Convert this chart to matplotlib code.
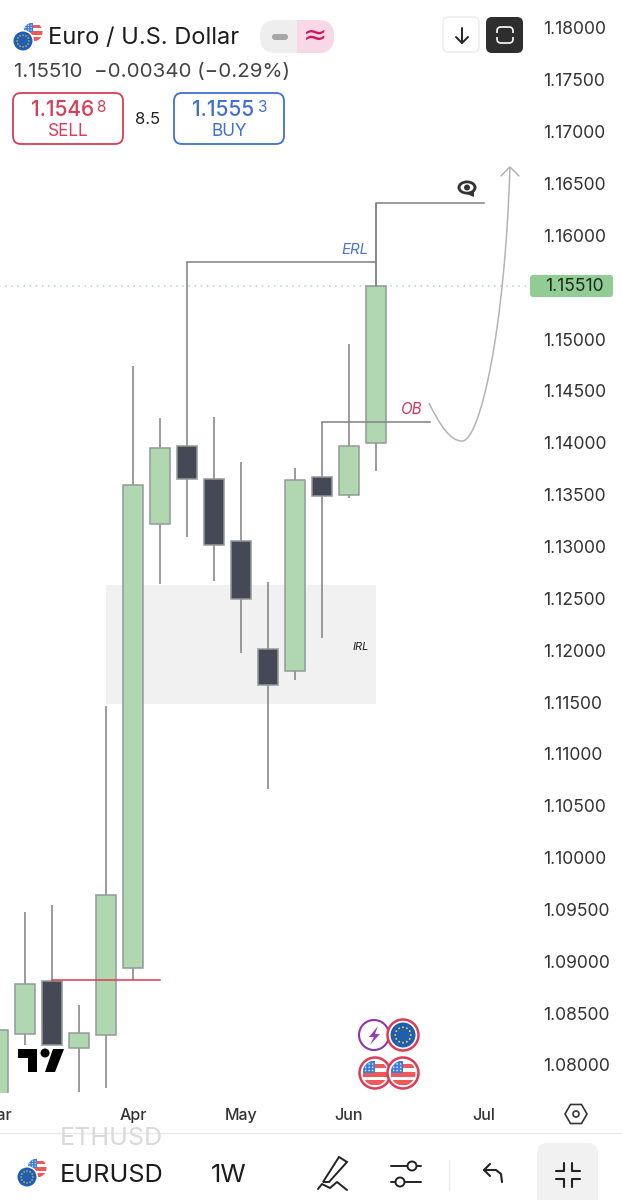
"""EUR/USD weekly candles with hand drawn levels, as seen in the TradingView app."""
import math

import matplotlib
matplotlib.use("Agg")
import matplotlib.pyplot as plt  # noqa: E402
from matplotlib.patches import Circle, Ellipse, FancyBboxPatch, PathPatch, Polygon, Rectangle  # noqa: E402
from matplotlib.path import Path  # noqa: E402

plt.rcParams["font.family"] = ["Inter", "DejaVu Sans"]

W, H = 622, 1200
GREEN = "#b1d7b1"
DARK = "#454855"
EDGE = "#929a96"
WICK = "#858585"
RED = "#dc3c55"
BLUE = "#3f6fd6"

# weekly candles, left to right
OPENS = [1.0740, 1.08299, 1.08810, 1.08164, 1.08289, 1.08936, 1.13217, 1.13969,
         1.13651, 1.13053, 1.12012, 1.11799, 1.13670, 1.13497, 1.13998]
CLOSES = [1.08338, 1.08781, 1.08193, 1.08309, 1.09639, 1.13593, 1.13950, 1.13651,
          1.13014, 1.12494, 1.11664, 1.13641, 1.13487, 1.13969, 1.15510]
HIGHS = [1.08338, 1.09475, 1.09543, 1.08579, 1.11462, 1.14741, 1.14239, 1.15744,
         1.14249, 1.13815, 1.12658, 1.13757, 1.14201, 1.14953, 1.16310]
LOWS = [1.0740, 1.08193, 1.08193, 1.07740, 1.07778, 1.08820, 1.12638, 1.13092,
        1.12667, 1.11973, 1.10662, 1.11713, 1.12118, 1.13468, 1.13728]

PRICE_TICKS = [1.18, 1.175, 1.17, 1.165, 1.16, 1.15, 1.145, 1.14, 1.135, 1.13,
               1.125, 1.12, 1.115, 1.11, 1.105, 1.10, 1.095, 1.09, 1.085, 1.08]
MONTH_POS = [0, 5, 9, 13, 18]
MONTH_LABELS = ["Mar", "Apr", "May", "Jun", "Jul"]

LAST_PRICE = 1.15510
EYE_LEVEL = 1.16310
ERL_LEVEL = 1.15744
OB_LEVEL = 1.14201
RED_LEVEL = 1.08820
IRL_TOP, IRL_BOTTOM = 1.12629, 1.11481

# target curve control points (candle index, price)
CURVE_X = [15.96, 16.37, 16.74, 17.19, 17.85, 18.78, 18.96]
CURVE_Y = [1.14384, 1.14172, 1.14017, 1.14017, 1.14017, 1.15088, 1.16660]

fig = plt.figure(figsize=(W / 100, H / 100), dpi=100, facecolor="white")

# chart axes: 27 px per candle, 10370 px per 1.0 of price
ax = fig.add_axes([-20 / W, 1 - 1093 / H, 552 / W, 1093 / H])
ax.set_xlim(-18 / 27, 534 / 27)
ax.set_ylim(1.18 - 1065 / 10370, 1.18 + 28 / 10370)
for s in ax.spines.values():
    s.set_visible(False)
ax.yaxis.tick_right()
ax.set_yticks(PRICE_TICKS, [f"{p:.5f}" for p in PRICE_TICKS])
ax.set_xticks(MONTH_POS, MONTH_LABELS)
ax.tick_params(axis="y", length=0, pad=8, labelsize=12.6, labelcolor="#333333")
ax.tick_params(axis="x", length=0, pad=10.5, labelsize=11.5, labelcolor="#333333")
for lab in ax.get_xticklabels():
    lab.set_fontweight("medium")

idx = list(range(len(OPENS)))
ax.vlines(idx, LOWS, HIGHS, color=WICK, lw=1.15, zorder=2)
colors = [GREEN if c >= o else DARK for o, c in zip(OPENS, CLOSES)]
bottoms = [min(o, c) for o, c in zip(OPENS, CLOSES)]
heights = [abs(o - c) for o, c in zip(OPENS, CLOSES)]
ax.bar(idx, heights, 0.74, bottom=bottoms, color=colors, edgecolor=EDGE, lw=1.1, zorder=3)

ax.axhline(LAST_PRICE, color="#a8dba8", lw=1.1, ls=(0, (1, 3)), zorder=1)

# drawn levels
ax.plot([14, 14, 18], [LAST_PRICE, EYE_LEVEL, EYE_LEVEL], color=WICK, lw=1.15, zorder=4)
ax.plot([7, 7, 14], [HIGHS[7], ERL_LEVEL, ERL_LEVEL], color=WICK, lw=1.15, zorder=4)
ax.plot([12, 12, 16], [HIGHS[12], OB_LEVEL, OB_LEVEL], color=WICK, lw=1.15, zorder=4)
ax.plot([2, 6], [RED_LEVEL, RED_LEVEL], color="#e0405a", lw=1.15, zorder=4)
ax.axhspan(IRL_BOTTOM, IRL_TOP, xmin=(4 + 18 / 27) / (552 / 27), xmax=(14 + 18 / 27) / (552 / 27),
           facecolor="#f1f1f1", lw=0, zorder=1.5)

curve = Path(list(zip(CURVE_X, CURVE_Y)),
             [Path.MOVETO, Path.CURVE4, Path.CURVE4, Path.CURVE4, Path.CURVE4, Path.CURVE4, Path.CURVE4])
ax.add_patch(PathPatch(curve, fc="none", ec="#b4b4b4", lw=1.1, zorder=4))
ax.plot([CURVE_X[-1] - 0.33, CURVE_X[-1], CURVE_X[-1] + 0.33],
        [CURVE_Y[-1] - 0.00085, CURVE_Y[-1], CURVE_Y[-1] - 0.00085], color="#b4b4b4", lw=1.1, zorder=4)

ax.text(13.22, 1.15795, "ERL", color="#4a76d0", style="italic", fontsize=10.8, ha="center", va="bottom", zorder=6)
ax.text(15.32, 1.14245, "OB", color="#d8375a", style="italic", fontsize=11, ha="center", va="bottom", zorder=6)
ax.text(13.45, 1.12035, "IRL", color="#222222", style="italic", fontsize=8, ha="center", va="center", zorder=6)

# app chrome on top, in pixels
ui = fig.add_axes([0, 0, 1, 1], facecolor="none")
ui.set_xlim(0, W)
ui.set_ylim(H, 0)
ui.axis("off")


def rbox(x0, y0, x1, y1, r, fc="white", ec="none", lw=1.0, z=2):
    ui.add_patch(FancyBboxPatch((x0 + r, y0 + r), x1 - x0 - 2 * r, y1 - y0 - 2 * r,
                                boxstyle=f"round,pad={r},rounding_size={r}", fc=fc, ec=ec, lw=lw, zorder=z))


def stroke(xs, ys, color="#222222", lw=1.5, z=4):
    ui.plot(xs, ys, color=color, lw=lw, solid_capstyle="round", solid_joinstyle="round", zorder=z)


def eu_flag(cx, cy, r, z=3):
    ui.add_patch(Circle((cx, cy), r, fc="#1f5fae", ec="none", zorder=z))
    for a in range(12):
        t = a * math.pi / 6
        ui.add_patch(Circle((cx + 0.62 * r * math.cos(t), cy + 0.62 * r * math.sin(t)), r * 0.075,
                            fc="#f3d34a", ec="none", zorder=z + 1))


def us_flag(cx, cy, r, z=3):
    clip = Circle((cx, cy), r, transform=ui.transData)
    ui.add_patch(Circle((cx, cy), r, fc="white", ec="none", zorder=z))
    for k in (-0.1, 0.55):
        p = ui.add_patch(Rectangle((cx - r, cy + k * r), 2 * r, 0.42 * r, fc="#ee5a5a", ec="none", zorder=z + 1))
        p.set_clip_path(clip)
    p = ui.add_patch(Rectangle((cx - 0.05 * r, cy - 0.72 * r), 1.1 * r, 0.3 * r, fc="#ee5a5a", ec="none", zorder=z + 1))
    p.set_clip_path(clip)
    p = ui.add_patch(Rectangle((cx - r, cy - r), r, r, fc="#3b7ddd", ec="none", zorder=z + 2))
    p.set_clip_path(clip)
    for i in range(3):
        for j in range(3):
            ui.add_patch(Circle((cx - 0.75 * r + 0.28 * i * r, cy - 0.72 * r + 0.26 * j * r), 0.06 * r,
                                fc="white", ec="none", zorder=z + 3))


def pair_icon(x_eu, y_eu, x_us, y_us, r):
    us_flag(x_us, y_us, r, z=3)
    ui.add_patch(Circle((x_eu, y_eu), r + 1.5, fc="white", ec="none", zorder=7))
    eu_flag(x_eu, y_eu, r, z=8)


# header
pair_icon(23, 41, 33, 32, 9.5)
ui.text(48, 38, "Euro / U.S. Dollar", fontsize=17, color="#1c1c1c", va="center", ha="left")
rbox(260, 20, 334, 53, 16, fc="#eeeeee")
right = FancyBboxPatch((276, 36), 42, 1, boxstyle="round,pad=16,rounding_size=16", fc="#f8d8e6", ec="none", zorder=3)
ui.add_patch(right)
right.set_clip_path(Rectangle((297, 15), 45, 45, transform=ui.transData))
rbox(272, 34, 288, 40, 3, fc="#a8a8a8", z=4)
ui.text(315, 36, "≈", fontsize=21, color="#d0155f", ha="center", va="center", zorder=4, family="DejaVu Sans")
ui.text(14, 72, "1.15510  −0.00340 (−0.29%)", fontsize=14.8, color="#444444", va="center", ha="left")

rbox(13, 93, 123, 144, 8, ec=RED, lw=1.3)
rbox(174, 93, 284, 144, 8, ec=BLUE, lw=1.3)
ui.text(31, 110, "1.1546", fontsize=15, color=RED, fontweight="medium", va="center", ha="left")
ui.text(96, 107, "8", fontsize=11, color=RED, va="center", ha="left")
ui.text(68, 131, "SELL", fontsize=12.4, color=RED, va="center", ha="center")
ui.text(192, 110, "1.1555", fontsize=15, color=BLUE, fontweight="medium", va="center", ha="left")
ui.text(258, 107, "3", fontsize=11, color=BLUE, va="center", ha="left")
ui.text(229, 131, "BUY", fontsize=12.4, color=BLUE, va="center", ha="center")
ui.text(148, 119, "8.5", fontsize=12, color="#222222", va="center", ha="center")

# top right buttons
rbox(443, 17, 479, 52, 5, fc="white", ec="#eeeeee", lw=1.2)
stroke([462, 462], [28, 43], lw=1.4)
stroke([456, 462, 468], [37, 43, 37], lw=1.4)
rbox(486, 17, 523, 53, 6, fc="#2e2e2e")
rbox(497, 27, 513, 43, 4, fc="none", ec="white", lw=1.2, z=3)
ui.add_patch(Rectangle((494, 33), 22, 4, fc="#2e2e2e", ec="none", zorder=4))

# last price tag
rbox(530, 275, 613, 297, 3, fc="#90cc94")
ui.text(574.5, 286.5, f"{LAST_PRICE:.5f}", fontsize=12.6, color="#1f2a1f", ha="center", va="center", zorder=4)

# eye drawing
ui.add_patch(Ellipse((467, 187.5), 19, 14, fc="#333333", ec="none", zorder=4))
ui.add_patch(Polygon([(462, 192), (474, 192), (474, 197)], fc="#333333", ec="none", zorder=4))
ui.add_patch(Ellipse((467, 187.5), 13, 8.5, fc="white", ec="none", zorder=5))
ui.add_patch(Circle((467, 187.5), 3, fc="#333333", ec="none", zorder=6))

# TradingView logo
ui.add_patch(Polygon([(18, 1049), (37, 1049), (37, 1072), (28, 1072), (28, 1058), (18, 1058)], fc="black", ec="none", zorder=6))
ui.add_patch(Circle((45, 1053), 4.5, fc="black", ec="none", zorder=6))
ui.add_patch(Polygon([(53, 1049), (64, 1049), (55, 1072), (45, 1072)], fc="black", ec="none", zorder=6))

# event badges
ui.add_patch(Circle((374, 1035), 15, fc="white", ec="#8e35a8", lw=1.5, zorder=3))
ui.add_patch(Polygon([(378, 1026), (369, 1037), (374, 1037), (370, 1045), (380, 1034), (375, 1034)],
                     fc="#9a3bb5", ec="none", zorder=4))
ui.add_patch(Circle((403, 1035), 15.5, fc="white", ec=RED, lw=1.8, zorder=5))
eu_flag(403, 1035, 12.5, z=6)
for bx in (375, 403):
    ui.add_patch(Circle((bx, 1073), 15.5, fc="white", ec=RED, lw=1.8, zorder=5 if bx == 375 else 9))
    us_flag(bx, 1073, 12.5, z=6 if bx == 375 else 10)

# settings hexagon
ui.add_patch(Polygon([(565, 1114), (570.5, 1104.5), (581.5, 1104.5), (587, 1114), (581.5, 1123.5), (570.5, 1123.5)],
                     fc="none", ec="#333333", lw=1.2, zorder=3))
ui.add_patch(Circle((576, 1114), 3, fc="none", ec="#333333", lw=1.2, zorder=3))

# bottom bar
ui.add_patch(Rectangle((0, 1133), W, 67, fc="white", ec="none", zorder=2))
ui.plot([0, W], [1133, 1133], color="#e9e9e9", lw=1, zorder=3)
eth = ui.text(111, 1145, "ETHUSD", fontsize=18, color="#d9d9d9", ha="center", va="baseline", zorder=3)
eth.set_clip_path(Rectangle((0, 1134), W, 66, transform=ui.transData))
pair_icon(27, 1177, 37, 1168, 9.5)
ui.text(60, 1175, "EURUSD", fontsize=18.2, color="#1c1c1c", va="center", ha="left", zorder=4)
ui.text(229, 1175, "1W", fontsize=18.5, color="#1c1c1c", va="center", ha="center", zorder=4)

# pen icon
ui.add_patch(Polygon([(323, 1182), (339, 1157), (347, 1162), (329, 1182)],
                     fc="white", ec="#222222", lw=1.4, zorder=4))
stroke([318, 322, 326, 330, 337, 347], [1189, 1184, 1186, 1188, 1182, 1190], lw=1.4)

# sliders icon
stroke([391, 421], [1166, 1166], lw=1.4)
stroke([391, 421], [1182, 1182], lw=1.4)
ui.add_patch(Circle((412, 1166), 4.5, fc="white", ec="#222222", lw=1.4, zorder=5))
ui.add_patch(Circle((400, 1182), 4.5, fc="white", ec="#222222", lw=1.4, zorder=5))
ui.plot([449, 449], [1160, 1190], color="#eeeeee", lw=1, zorder=3)

# undo arrow
stroke([502, 501, 496, 484], [1182, 1174, 1170, 1170], lw=1.5)
stroke([490, 484, 490], [1164, 1170, 1176], lw=1.5)

# collapse button
rbox(537, 1143, 598, 1215, 10, fc="#f1f1f1", z=3)
for sx, sy in ((-1, -1), (1, -1), (-1, 1), (1, 1)):
    cx, cy = 567.5 + sx * 4, 1175 + sy * 4
    stroke([cx, cx, cx + sx * 8], [cy + sy * 8, cy, cy], lw=1.5, z=5)

fig.savefig("out.png", dpi=100)
